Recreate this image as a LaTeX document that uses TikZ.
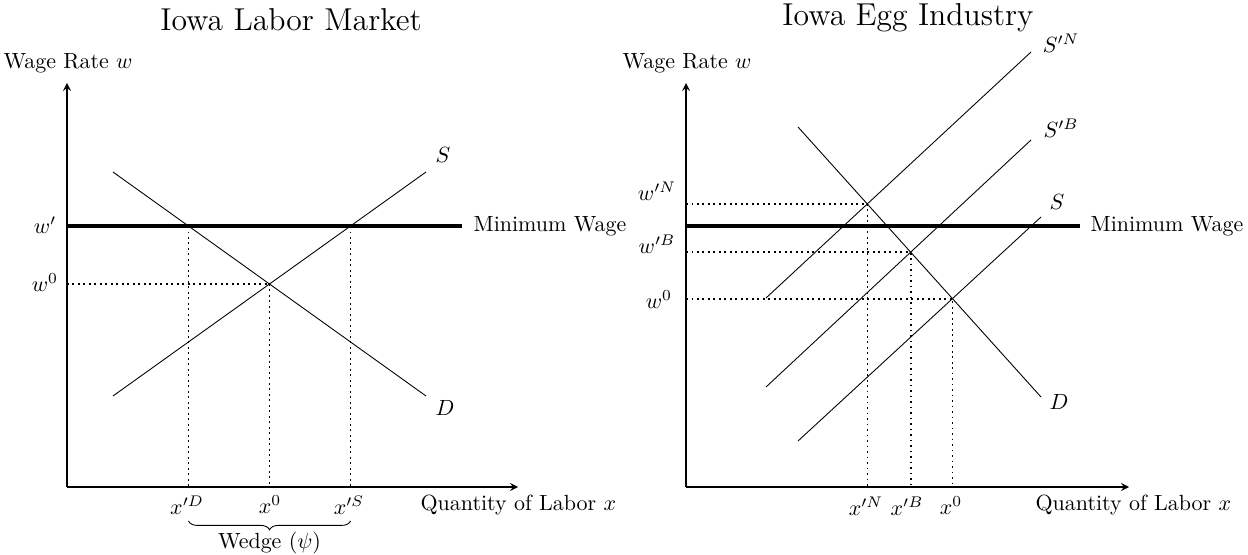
\documentclass[tikz,border=0pt]{standalone}
\usetikzlibrary{decorations.pathreplacing,arrows}
\begin{document}
\begin{tikzpicture}[x=0.455pt,y=-0.455pt,
  axis/.style={semithick,-stealth},
  curve/.style={thin},
  minw/.style={line width=1.6pt},
  guide/.style={line width=0.8pt,dash pattern=on 0.8pt off 1.7pt},
  lbl/.style={inner sep=1pt}]
\useasboundingbox (0,0) rectangle (1248,555);
% ---------------- Left panel ----------------
\coordinate (LO) at (67,487);
\coordinate (LYT) at (67,83);
\coordinate (LXT) at (518,487);
\draw[axis] (LO) -- (LYT);
\draw[axis] (LO) -- (LXT);
\node[lbl] (ltitle) at (291,20) {\Large Iowa Labor Market};
\node[lbl] (lylab) at (68,63) {Wage Rate $w$};
\node[lbl,anchor=west] (lxlab) at (418,505) {Quantity of Labor $x$};
\coordinate (LM0) at (67,226);
\coordinate (LM1) at (462,226);
\draw[minw] (LM0) -- (LM1);
\node[lbl,anchor=west] (lmwlab) at (471,226) {Minimum Wage};
\coordinate (LS0) at (113,396);
\coordinate (LS1) at (426,172);
\coordinate (LD0) at (113,172);
\coordinate (LD1) at (426,396);
\draw[curve] (LS0) -- (LS1);
\draw[curve] (LD0) -- (LD1);
\node[lbl] (lS) at (443,155) {$S$};
\node[lbl] (lD) at (445,408) {$D$};
\coordinate (LE) at (intersection of LS0--LS1 and LD0--LD1);
\coordinate (LPD) at (intersection of LD0--LD1 and LM0--LM1);
\coordinate (LPS) at (intersection of LS0--LS1 and LM0--LM1);
\draw[guide] (LO |- LE) -- (LE);
\draw[guide] (LE) -- (LE |- LO);
\draw[guide] (LPD) -- (LPD |- LO);
\draw[guide] (LPS) -- (LPS |- LO);
\node[lbl] (lwp) at (45,225) {$w'$};
\node[lbl] (lw0) at (45,283) {$w^0$};
\node[lbl] (lxD) at (187,505) {$x'^D$};
\node[lbl] (lx0) at (270,505) {$x^0$};
\node[lbl] (lxS) at (349,505) {$x'^S$};
\draw[decorate,decoration={brace,mirror,amplitude=4pt}] (LPD |- 0,521) -- (LPS |- 0,521)
  node[midway,below=5pt,inner sep=0pt] (wedge) {Wedge ($\psi$)};
% ---------------- Right panel ----------------
\coordinate (RO) at (686,487);
\coordinate (RYT) at (686,83);
\coordinate (RXT) at (1129,487);
\draw[axis] (RO) -- (RYT);
\draw[axis] (RO) -- (RXT);
\node[lbl] (rtitle) at (908,18) {\Large Iowa Egg Industry};
\node[lbl] (rylab) at (687,63) {Wage Rate $w$};
\node[lbl,anchor=west] (rxlab) at (1033,505) {Quantity of Labor $x$};
\coordinate (RM0) at (686,226);
\coordinate (RM1) at (1080,226);
\draw[minw] (RM0) -- (RM1);
\node[lbl,anchor=west] (rmwlab) at (1088,226) {Minimum Wage};
\coordinate (RN0) at (766,298);
\coordinate (RN1) at (1031,52);
\coordinate (RB0) at (766,387);
\coordinate (RB1) at (1031,140);
\coordinate (RS0) at (798,441);
\coordinate (RS1) at (1041,217);
\coordinate (RD0) at (798,127);
\coordinate (RD1) at (1041,397);
\draw[curve] (RN0) -- (RN1);
\draw[curve] (RB0) -- (RB1);
\draw[curve] (RS0) -- (RS1);
\draw[curve] (RD0) -- (RD1);
\node[lbl] (rSN) at (1061,43) {$S'^N$};
\node[lbl] (rSB) at (1061,128) {$S'^B$};
\node[lbl] (rS) at (1057,202) {$S$};
\node[lbl] (rD) at (1059,402) {$D$};
\coordinate (REN) at (intersection of RN0--RN1 and RD0--RD1);
\coordinate (REB) at (intersection of RB0--RB1 and RD0--RD1);
\coordinate (RE0) at (intersection of RS0--RS1 and RD0--RD1);
\draw[guide] (RO |- REN) -- (REN) -- (REN |- RO);
\draw[guide] (RO |- REB) -- (REB) -- (REB |- RO);
\draw[guide] (RO |- RE0) -- (RE0) -- (RE0 |- RO);
\node[lbl] (rwN) at (657,191) {$w'^N$};
\node[lbl] (rwB) at (657,244) {$w'^B$};
\node[lbl] (rw0) at (659,300) {$w^0$};
\node[lbl] (rxN) at (866,506) {$x'^N$};
\node[lbl] (rxB) at (907,506) {$x'^B$};
\node[lbl] (rx0) at (951,506) {$x^0$};
\end{tikzpicture}
\end{document}
